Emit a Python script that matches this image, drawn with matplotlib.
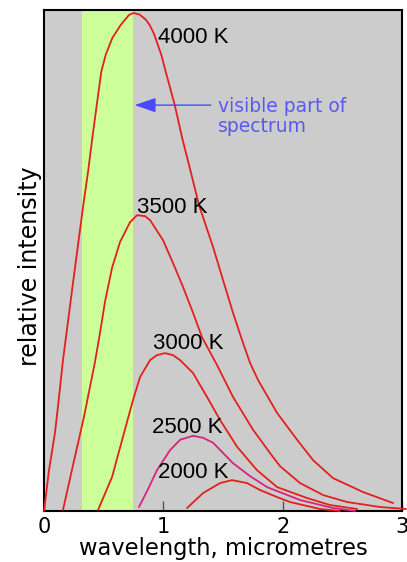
import matplotlib
matplotlib.use("Agg")
import matplotlib.pyplot as plt

# ---- data (wavelength in micrometres, relative intensity) ----
x_4000 = [0.0, 0.042, 0.092, 0.126, 0.159, 0.201, 0.243, 0.285, 0.329, 0.369, 0.405, 0.442,
          0.480, 0.517, 0.573, 0.643, 0.712, 0.749, 0.800, 0.852, 0.885, 0.922, 0.983, 1.020,
          1.096, 1.159, 1.230, 1.299, 1.417, 1.500, 1.584, 1.660, 1.727, 1.794, 1.953, 2.121,
          2.255, 2.422, 2.674, 2.925]
y_4000 = [0.0, 8.2, 15.7, 22.9, 30.3, 38.0, 45.8, 53.4, 61.4, 68.1, 74.9, 81.5,
          88.2, 91.6, 95.0, 97.6, 99.6, 100.0, 99.7, 98.7, 97.6, 95.8, 91.6, 88.2,
          81.5, 74.8, 68.1, 61.4, 53.0, 46.4, 39.8, 34.3, 29.7, 26.3, 19.7, 14.3,
          10.2, 6.6, 3.8, 1.6]

x_3500 = [0.159, 0.243, 0.335, 0.427, 0.469, 0.511, 0.570, 0.637, 0.721, 0.780, 0.847, 0.889,
          0.997, 1.081, 1.165, 1.249, 1.324, 1.450, 1.584, 1.752, 1.920, 1.978, 2.146, 2.339,
          2.540, 2.816, 3.034]
y_3500 = [0.2, 9.2, 18.9, 29.9, 35.7, 42.0, 48.8, 54.0, 58.0, 59.4, 59.2, 58.4,
          54.4, 49.8, 45.0, 39.8, 34.9, 29.3, 22.9, 16.3, 10.8, 9.0, 5.6, 3.2,
          1.8, 0.8, 0.4]

x_3000 = [0.453, 0.570, 0.662, 0.746, 0.805, 0.889, 0.947, 1.014, 1.081, 1.140, 1.249, 1.366,
          1.475, 1.618, 1.785, 1.953, 2.205, 2.397, 2.624]
y_3000 = [0.2, 6.8, 14.9, 22.3, 26.9, 30.3, 31.3, 31.7, 31.3, 30.3, 27.7, 22.9,
          18.3, 12.9, 8.2, 4.8, 2.6, 1.2, 0.4]

x_2500 = [0.796, 0.872, 0.947, 1.056, 1.140, 1.249, 1.333, 1.417, 1.584, 1.727, 1.869, 2.146,
          2.422, 2.607]
y_2500 = [0.8, 4.4, 8.2, 12.2, 14.3, 15.1, 14.7, 13.7, 9.6, 7.0, 4.8, 2.2,
          0.6, 0.0]

x_2000 = [1.199, 1.333, 1.475, 1.576, 1.702, 1.811, 1.953, 2.062, 2.314, 2.48]
y_2000 = [0.6, 3.6, 5.6, 6.2, 5.6, 4.2, 2.8, 1.8, 0.4, 0.0]

labels = ["4000 K", "3500 K", "3000 K", "2500 K", "2000 K"]
label_x = [0.956, 0.780, 0.914, 0.905, 0.956]
label_y = [94.0, 59.8, 32.5, 15.7, 6.6]

visible_band = [0.316, 0.742]
xticks = [0, 1, 2, 3]

# ---- figure ----
fig = plt.figure(figsize=(4.07, 5.62), dpi=100)
ax = fig.add_axes([44 / 407, 51 / 562, 358 / 407, 501 / 562])
ax.set_facecolor("#cccccc")
ax.set_xlim(0, 3)
ax.set_ylim(0, 100.6)

ax.axvspan(visible_band[0], visible_band[1], color="#ccff99", zorder=1, lw=0)

red = "#e3201b"
mag = "#d8247c"
lw = 1.3
kw = dict(lw=lw, zorder=3, clip_on=False, solid_joinstyle="round", solid_capstyle="round")
ax.plot(x_4000, y_4000, color=red, **kw)
ax.plot(x_3500, y_3500, color=red, **kw)
ax.plot(x_3000, y_3000, color=red, **kw)
ax.plot(x_2500, y_2500, color=mag, **kw)
ax.plot(x_2000, y_2000, color=red, **kw)

for t, lx, ly in zip(labels, label_x, label_y):
    ax.text(lx, ly, t, fontsize=16, family="Liberation Sans", color="black",
            ha="left", va="baseline", zorder=4)

ax.annotate("", xy=(0.760, 81.5), xytext=(1.397, 81.5),
            arrowprops=dict(arrowstyle="-|>,head_length=1.3,head_width=0.45",
                            color="#4a4aff", lw=1.0, shrinkA=0, shrinkB=0), zorder=4)
ax.text(1.459, 80.1, "visible part of", fontsize=13.5, color="#5a5aee",
        ha="left", va="baseline", zorder=4)
ax.text(1.459, 76.2, "spectrum", fontsize=13.5, color="#5a5aee",
        ha="left", va="baseline", zorder=4)

ax.set_xticks(xticks)
ax.set_xticklabels([str(v) for v in xticks], fontsize=15)
ax.set_yticks([])
ax.tick_params(axis="x", direction="in", length=7, width=1, pad=4, color="#555555")
for s in ax.spines.values():
    s.set_linewidth(1.5)
    s.set_color("black")

ax.set_xlabel("wavelength, micrometres", fontsize=16.3, labelpad=0)
fig.text(30 / 407, 1 - 266 / 562, "relative intensity", fontsize=17, rotation=90,
         ha="center", va="center")

fig.savefig("out.png", dpi=100)
